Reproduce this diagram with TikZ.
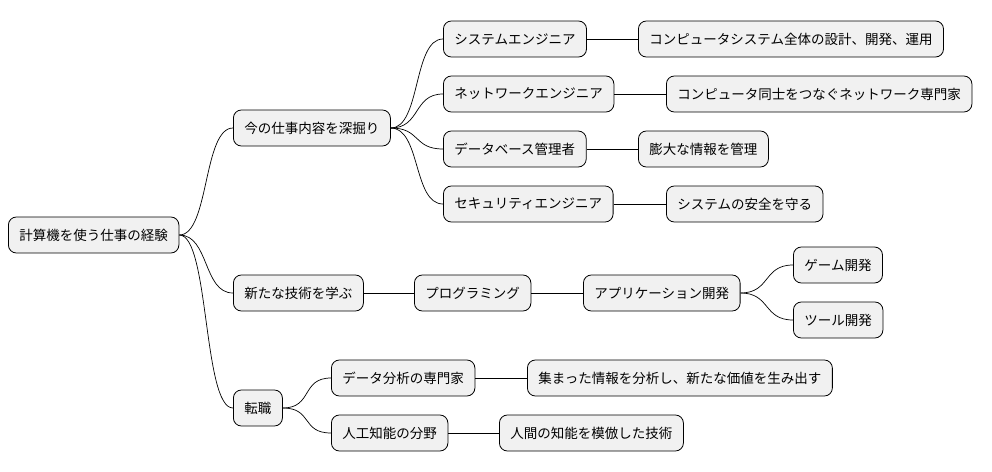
\documentclass[tikz,border=0pt]{standalone}
\usepackage{fontspec}
\setmainfont{Noto Sans CJK JP}
\begin{document}
\begin{tikzpicture}[x=1pt,y=-1pt,
  n/.style={draw=black,fill={rgb,255:red,241;green,241;blue,241},rounded corners=8pt,minimum height=36pt,inner xsep=11pt,font=\fontsize{13.5}{15}\selectfont,line width=0.8pt,anchor=west},
  c/.style={line width=0.7pt}]
\useasboundingbox (0,0) rectangle (992,471);
\node[n] (r) at (8,235) {計算機を使う仕事の経験};
\node[n] (a) at (233,128) {今の仕事内容を深掘り};
\node[n] (b) at (233,293) {新たな技術を学ぶ};
\node[n] (t) at (233,408) {転職};
\node[n] (a1) at (443,39) {システムエンジニア};
\node[n] (a2) at (443,94) {ネットワークエンジニア};
\node[n] (a3) at (443,149) {データベース管理者};
\node[n] (a4) at (443,204) {セキュリティエンジニア};
\node[n] (a1x) at (638,39) {コンピュータシステム全体の設計、開発、運用};
\node[n] (a2x) at (666,94) {コンピュータ同士をつなぐネットワーク専門家};
\node[n] (a3x) at (638,149) {膨大な情報を管理};
\node[n] (a4x) at (666,204) {システムの安全を守る};
\node[n] (b1) at (414,293) {プログラミング};
\node[n] (b2) at (583,293) {アプリケーション開発};
\node[n] (b3) at (793,265) {ゲーム開発};
\node[n] (b4) at (793,320) {ツール開発};
\node[n] (t1) at (331,378) {データ分析の専門家};
\node[n] (t1x) at (527,378) {集まった情報を分析し、新たな価値を生み出す};
\node[n] (t2) at (331,433) {人工知能の分野};
\node[n] (t2x) at (499,433) {人間の知能を模倣した技術};
\foreach \p/\q in {r/a,r/b,r/t,a/a1,a/a2,a/a3,a/a4,b2/b3,b2/b4,t/t1,t/t2}
  \draw[c] (\p.east) .. controls +(30,0) and +(-30,0) .. (\q.west);
\foreach \p/\q in {a1/a1x,a2/a2x,a3/a3x,a4/a4x,b/b1,b1/b2,t1/t1x,t2/t2x}
  \draw[c] (\p.east) -- (\q.west);
\end{tikzpicture}
\end{document}
